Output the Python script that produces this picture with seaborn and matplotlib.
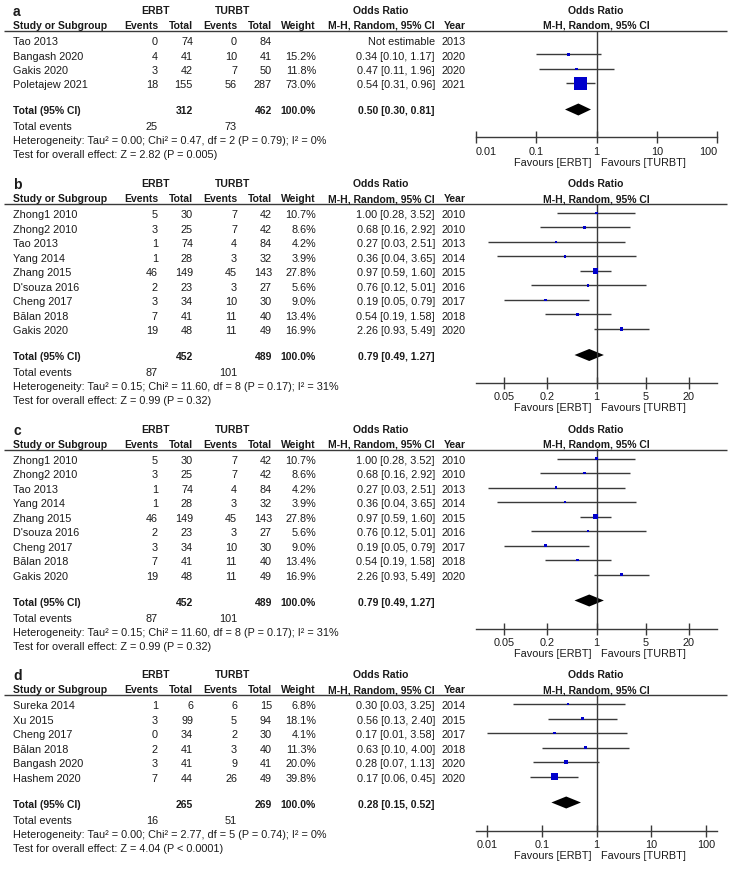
import numpy as np
import matplotlib
matplotlib.use("Agg")
import matplotlib.pyplot as plt
from matplotlib.ticker import NullLocator
import seaborn as sns

# ── Panel a data ──────────────────────────────────────────────────────────────
A_STUDY = ["Tao 2013", "Bangash 2020", "Gakis 2020", "Poletajew 2021"]
A_E_EVENTS = [0, 4, 3, 18]
A_E_TOTAL = [74, 41, 42, 155]
A_T_EVENTS = [0, 10, 7, 56]
A_T_TOTAL = [84, 41, 50, 287]
A_WEIGHT = [np.nan, 15.2, 11.8, 73.0]
A_OR = [np.nan, 0.34, 0.47, 0.54]
A_LO = [np.nan, 0.10, 0.11, 0.31]
A_HI = [np.nan, 1.17, 1.96, 0.96]
A_YEAR = [2013, 2020, 2020, 2021]
A_POOLED = [0.50, 0.30, 0.81]
A_HET = "Heterogeneity: Tau² = 0.00; Chi² = 0.47, df = 2 (P = 0.79); I² = 0%"
A_TEST = "Test for overall effect: Z = 2.82 (P = 0.005)"

# ── Panel b / c data (same studies) ───────────────────────────────────────────
B_STUDY = ["Zhong1 2010", "Zhong2 2010", "Tao 2013", "Yang 2014", "Zhang 2015",
           "D'souza 2016", "Cheng 2017", "Bălan 2018", "Gakis 2020"]
B_E_EVENTS = [5, 3, 1, 1, 46, 2, 3, 7, 19]
B_E_TOTAL = [30, 25, 74, 28, 149, 23, 34, 41, 48]
B_T_EVENTS = [7, 7, 4, 3, 45, 3, 10, 11, 11]
B_T_TOTAL = [42, 42, 84, 32, 143, 27, 30, 40, 49]
B_WEIGHT = [10.7, 8.6, 4.2, 3.9, 27.8, 5.6, 9.0, 13.4, 16.9]
B_OR = [1.00, 0.68, 0.27, 0.36, 0.97, 0.76, 0.19, 0.54, 2.26]
B_LO = [0.28, 0.16, 0.03, 0.04, 0.59, 0.12, 0.05, 0.19, 0.93]
B_HI = [3.52, 2.92, 2.51, 3.65, 1.60, 5.01, 0.79, 1.58, 5.49]
B_YEAR = [2010, 2010, 2013, 2014, 2015, 2016, 2017, 2018, 2020]
B_POOLED = [0.79, 0.49, 1.27]
B_HET = "Heterogeneity: Tau² = 0.15; Chi² = 11.60, df = 8 (P = 0.17); I² = 31%"
B_TEST = "Test for overall effect: Z = 0.99 (P = 0.32)"

# ── Panel d data ──────────────────────────────────────────────────────────────
D_STUDY = ["Sureka 2014", "Xu 2015", "Cheng 2017", "Bălan 2018", "Bangash 2020", "Hashem 2020"]
D_E_EVENTS = [1, 3, 0, 2, 3, 7]
D_E_TOTAL = [6, 99, 34, 41, 41, 44]
D_T_EVENTS = [6, 5, 2, 3, 9, 26]
D_T_TOTAL = [15, 94, 30, 40, 41, 49]
D_WEIGHT = [6.8, 18.1, 4.1, 11.3, 20.0, 39.8]
D_OR = [0.30, 0.56, 0.17, 0.63, 0.28, 0.17]
D_LO = [0.03, 0.13, 0.01, 0.10, 0.07, 0.06]
D_HI = [3.25, 2.40, 3.58, 4.00, 1.13, 0.45]
D_YEAR = [2014, 2015, 2017, 2018, 2020, 2020]
D_POOLED = [0.28, 0.15, 0.52]
D_HET = "Heterogeneity: Tau² = 0.00; Chi² = 2.77, df = 5 (P = 0.74); I² = 0%"
D_TEST = "Test for overall effect: Z = 4.04 (P < 0.0001)"

# ── Layout (pixels) ───────────────────────────────────────────────────────────
W, H = 731, 871
FS = 7.8          # regular text
FS_B = 7.5        # bold headers / totals
TXT = "#1a1a1a"
LINE = "#3a3a3a"
BLUE = "#0000cc"
X_LABEL, X_E_EV, X_E_TOT, X_T_EV, X_T_TOT = 13, 158, 193, 237, 272
X_WEIGHT, X_OR, X_YEAR = 316, 435, 466
F_LEFT, F_RIGHT, F_ONE = 476, 717, 596

sns.set_theme(style="white")
plt.rcParams["font.family"] = ["Liberation Sans", "DejaVu Sans"]

fig = plt.figure(figsize=(W / 100, H / 100), dpi=100)
fig.patch.set_facecolor("white")
tx = fig.add_axes([0, 0, 1, 1])
tx.set_xlim(0, W)
tx.set_ylim(H, 0)
tx.axis("off")


def put(x, y, s, ha="right", bold=False, size=None):
    if size is None:
        size = FS_B if bold else FS
    tx.text(x, y, s, ha=ha, va="center", fontsize=size, color=TXT,
            fontweight="bold" if bold else "normal")


def or_text(o, lo, hi):
    if np.isnan(o):
        return "Not estimable"
    return f"{o:.2f} [{lo:.2f}, {hi:.2f}]"


def draw_panel(letter, base, study, e_ev, e_tot, t_ev, t_tot, weight, orr, lo, hi,
               year, pooled, het, test, xlim, ticks, ticklabels, clamp=False):
    hdr = base - 15
    line_y = base + 5
    rows = base + 16 + 14.5 * np.arange(len(study))
    tot_y = rows[-1] + 26
    ev_y = tot_y + 16
    het_y = ev_y + 14
    test_y = het_y + 14
    ax_y = het_y - 4

    # header
    put(X_LABEL, hdr + 1, letter, ha="left", bold=True, size=10)
    put(155, hdr, "ERBT", ha="center", bold=True)
    put(233, hdr, "TURBT", ha="center", bold=True)
    put(381, hdr, "Odds Ratio", ha="center", bold=True)
    put(F_ONE, hdr, "Odds Ratio", ha="center", bold=True)
    put(X_LABEL, base, "Study or Subgroup", ha="left", bold=True)
    for x, s in [(X_E_EV, "Events"), (X_E_TOT, "Total"), (X_T_EV, "Events"),
                 (X_T_TOT, "Total"), (X_WEIGHT, "Weight"),
                 (X_OR, "M-H, Random, 95% CI"), (X_YEAR, "Year")]:
        put(x, base, s, bold=True)
    put(F_ONE, base, "M-H, Random, 95% CI", ha="center", bold=True)
    tx.hlines(line_y, 4, 727, color=LINE, lw=1.0)

    # study rows
    for i, y in enumerate(rows):
        put(X_LABEL, y, study[i], ha="left")
        put(X_E_EV, y, str(e_ev[i]))
        put(X_E_TOT, y, str(e_tot[i]))
        put(X_T_EV, y, str(t_ev[i]))
        put(X_T_TOT, y, str(t_tot[i]))
        if not np.isnan(weight[i]):
            put(X_WEIGHT, y, f"{weight[i]:.1f}%")
        put(X_OR, y, or_text(orr[i], lo[i], hi[i]))
        put(X_YEAR, y, str(year[i]))

    # totals
    put(X_LABEL, tot_y, "Total (95% CI)", ha="left", bold=True)
    put(X_E_TOT, tot_y, str(sum(e_tot)), bold=True)
    put(X_T_TOT, tot_y, str(sum(t_tot)), bold=True)
    put(X_WEIGHT, tot_y, "100.0%", bold=True)
    put(X_OR, tot_y, or_text(*pooled), bold=True)
    put(X_LABEL, ev_y, "Total events", ha="left")
    put(X_E_EV, ev_y, str(sum(e_ev)))
    put(X_T_EV, ev_y, str(sum(t_ev)))
    put(X_LABEL, het_y, het, ha="left")
    put(X_LABEL, test_y, test, ha="left")

    # forest axes
    fx = fig.add_axes([F_LEFT / W, 1 - ax_y / H, (F_RIGHT - F_LEFT) / W, (ax_y - line_y) / H])
    fx.patch.set_alpha(0)
    fx.set_xscale("log")
    fx.set_xlim(*xlim)
    fx.set_ylim(ax_y, line_y)
    for side in ["top", "left", "right"]:
        fx.spines[side].set_visible(False)
    fx.spines["bottom"].set_color(LINE)
    fx.spines["bottom"].set_linewidth(1.0)
    fx.axvline(1, color=LINE, lw=1.0)

    o = np.array(orr, dtype=float)
    ok = ~np.isnan(o)
    my = rows[ok] - 2
    fx.hlines(my, np.array(lo)[ok], np.array(hi)[ok], color=LINE, lw=1.0)
    side = np.maximum(2.5, 0.18 * np.array(weight)[ok]) * 0.72
    sns.scatterplot(x=o[ok], y=my, marker="s", s=side ** 2, color=BLUE,
                    linewidth=0, ax=fx, legend=False, zorder=3)

    pe, pl, ph = pooled
    dy = tot_y - 2
    fx.fill([pl, pe, ph, pe], [dy, dy - 6, dy, dy + 6], color="black", lw=0)

    fx.set_yticks([])
    fx.set_xticks(ticks)
    fx.set_xticklabels(ticklabels)
    fx.xaxis.set_minor_locator(NullLocator())
    fx.tick_params(axis="x", direction="inout", length=8, width=1.0, color=LINE,
                   labelsize=FS, labelcolor=TXT, pad=2.5, bottom=True)
    if clamp:
        labs = fx.get_xticklabels()
        labs[0].set_ha("left")
        labs[-1].set_ha("right")

    put(F_ONE - 5, het_y + 21, "Favours [ERBT]")
    put(F_ONE + 5, het_y + 21, "Favours [TURBT]", ha="left")
    return base + 14.5 * len(study) + 115


base = 26
base = draw_panel("a", base, A_STUDY, A_E_EVENTS, A_E_TOTAL, A_T_EVENTS, A_T_TOTAL,
                  A_WEIGHT, A_OR, A_LO, A_HI, A_YEAR, A_POOLED, A_HET, A_TEST,
                  (0.01, 100), [0.01, 0.1, 1, 10, 100], ["0.01", "0.1", "1", "10", "100"],
                  clamp=True)
base = draw_panel("b", base, B_STUDY, B_E_EVENTS, B_E_TOTAL, B_T_EVENTS, B_T_TOTAL,
                  B_WEIGHT, B_OR, B_LO, B_HI, B_YEAR, B_POOLED, B_HET, B_TEST,
                  (0.02, 50), [0.05, 0.2, 1, 5, 20], ["0.05", "0.2", "1", "5", "20"])
base = draw_panel("c", base, B_STUDY, B_E_EVENTS, B_E_TOTAL, B_T_EVENTS, B_T_TOTAL,
                  B_WEIGHT, B_OR, B_LO, B_HI, B_YEAR, B_POOLED, B_HET, B_TEST,
                  (0.02, 50), [0.05, 0.2, 1, 5, 20], ["0.05", "0.2", "1", "5", "20"])
draw_panel("d", base, D_STUDY, D_E_EVENTS, D_E_TOTAL, D_T_EVENTS, D_T_TOTAL,
           D_WEIGHT, D_OR, D_LO, D_HI, D_YEAR, D_POOLED, D_HET, D_TEST,
           (10 ** -2.2, 10 ** 2.2), [0.01, 0.1, 1, 10, 100], ["0.01", "0.1", "1", "10", "100"])

fig.savefig("out.png", dpi=100, facecolor="white")
